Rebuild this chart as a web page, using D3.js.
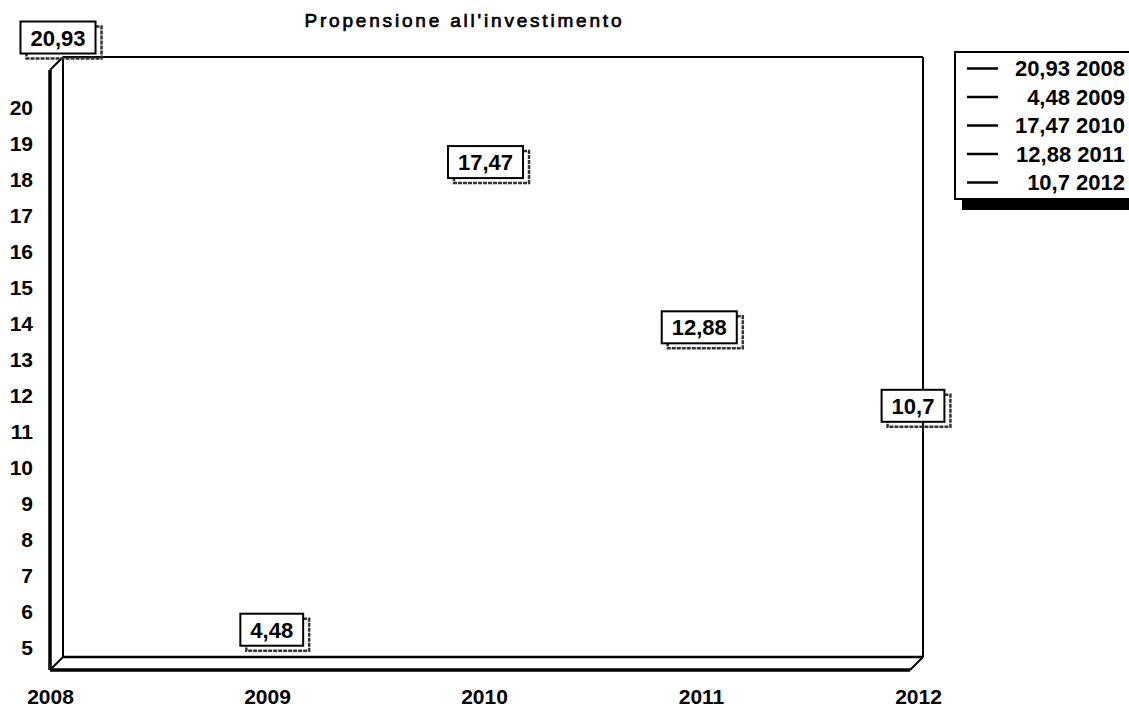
<!DOCTYPE html>
<html>
<head>
<meta charset="utf-8">
<script src="https://cdn.jsdelivr.net/npm/d3@7"></script>
<style>
  body { margin: 0; background: #fff; }
  text { font-family: "Liberation Sans", Arial, sans-serif; fill: #000; }
</style>
</head>
<body>
<svg id="chart" width="1129" height="709"></svg>
<script>
var title = "Propensione all'investimento";
var years = ["2008", "2009", "2010", "2011", "2012"];
var values = [20.93, 4.48, 17.47, 12.88, 10.7];
var yTicks = [5, 6, 7, 8, 9, 10, 11, 12, 13, 14, 15, 16, 17, 18, 19, 20];

var svg = d3.select("#chart");
var fmt = function(v) { return String(v).replace(".", ","); };

// frame of the fake 3d box
var front = {left: 50, right: 910, top: 70, bottom: 670};
var depth = 13;

var y = d3.scaleLinear().domain([5, 20]).range([648, 108]);
var x = d3.scalePoint().domain(years).range([50, 918]);
var xLab = d3.scalePoint().domain(years).range([58, 913]);

// title
svg.append("text")
    .attr("x", 463).attr("y", 27)
    .attr("text-anchor", "middle")
    .attr("font-size", 19)
    .attr("textLength", 317)
    .attr("lengthAdjust", "spacing")
    .style("stroke", "#000").style("stroke-width", 0.7)
    .text(title);

// walls
var walls = svg.append("g").attr("stroke", "#000").attr("fill", "none");
var bl = front.left + depth, br = front.right + depth,
    bt = front.top - depth, bb = front.bottom - depth;
[
  [bl, bt, br, bt, 2],
  [br, bt, br, bb, 2],
  [bl, bb, br, bb, 2.5],
  [bl, bt, bl, bb, 2],
  [front.left, front.top, front.left, front.bottom, 3.5],
  [front.left, front.bottom, front.right, front.bottom, 3.5],
  [front.left, front.top, bl, bt, 2],
  [front.left, front.bottom, bl, bb, 2],
  [front.right, front.bottom, br, bb, 2]
].forEach(function(l) {
  walls.append("line")
      .attr("x1", l[0]).attr("y1", l[1]).attr("x2", l[2]).attr("y2", l[3])
      .attr("stroke-width", l[4]);
});

// y axis
var yAxis = svg.append("g")
    .attr("transform", "translate(" + front.left + ",0)")
    .call(d3.axisLeft(y).tickValues(yTicks).tickSize(0).tickPadding(17));
yAxis.select(".domain").remove();
yAxis.selectAll("text")
    .attr("font-size", 21).attr("font-weight", "bold")
    .style("font-family", "'Liberation Sans', Arial, sans-serif");

// x axis
var xAxis = svg.append("g")
    .attr("transform", "translate(0," + front.bottom + ")")
    .call(d3.axisBottom(x).tickSize(0).tickPadding(19));
xAxis.select(".domain").remove();
xAxis.selectAll("text")
    .attr("font-size", 21).attr("font-weight", "bold")
    .style("font-family", "'Liberation Sans', Arial, sans-serif");

// data labels
var labels = svg.append("g").selectAll("g")
    .data(values)
    .enter().append("g")
    .attr("transform", function(d, i) {
      return "translate(" + xLab(years[i]) + "," + (y(d) - 53) + ")";
    });

labels.each(function(d) {
  var g = d3.select(this);
  var t = g.append("text")
      .attr("text-anchor", "middle")
      .attr("y", 24)
      .attr("font-size", 22).attr("font-weight", "bold")
      .text(fmt(d));
  var w = t.node().getComputedTextLength() + 20;
  var h = 32;
  g.insert("path", "text")
      .attr("d", "M" + (w / 2) + ",5 H" + (w / 2 + 6) + " V" + (h + 5) +
                 " H" + (-w / 2 + 6) + " V" + h)
      .attr("fill", "none").attr("stroke", "#333")
      .attr("stroke-width", 2.5).attr("stroke-dasharray", "4,1");
  g.insert("rect", "text")
      .attr("x", -w / 2).attr("y", 0)
      .attr("width", w).attr("height", h)
      .attr("fill", "#fff").attr("stroke", "#000").attr("stroke-width", 2);
});

// legend
var legend = svg.append("g");
legend.append("rect")
    .attr("x", 962).attr("y", 58).attr("width", 200).attr("height", 152)
    .attr("fill", "#000");
legend.append("rect")
    .attr("x", 955).attr("y", 52).attr("width", 200).attr("height", 147)
    .attr("fill", "#fff").attr("stroke", "#000").attr("stroke-width", 2);

var rows = legend.selectAll("g.row")
    .data(values)
    .enter().append("g")
    .attr("class", "row")
    .attr("transform", function(d, i) { return "translate(0," + (68.5 + i * 28.5) + ")"; });
rows.append("line")
    .attr("x1", 967).attr("x2", 998)
    .attr("stroke", "#000").attr("stroke-width", 2.5);
rows.append("text")
    .attr("x", 1125).attr("dy", "0.35em")
    .attr("text-anchor", "end")
    .attr("font-size", 22).attr("font-weight", "bold")
    .text(function(d, i) { return fmt(d) + " " + years[i]; });
</script>
</body>
</html>
